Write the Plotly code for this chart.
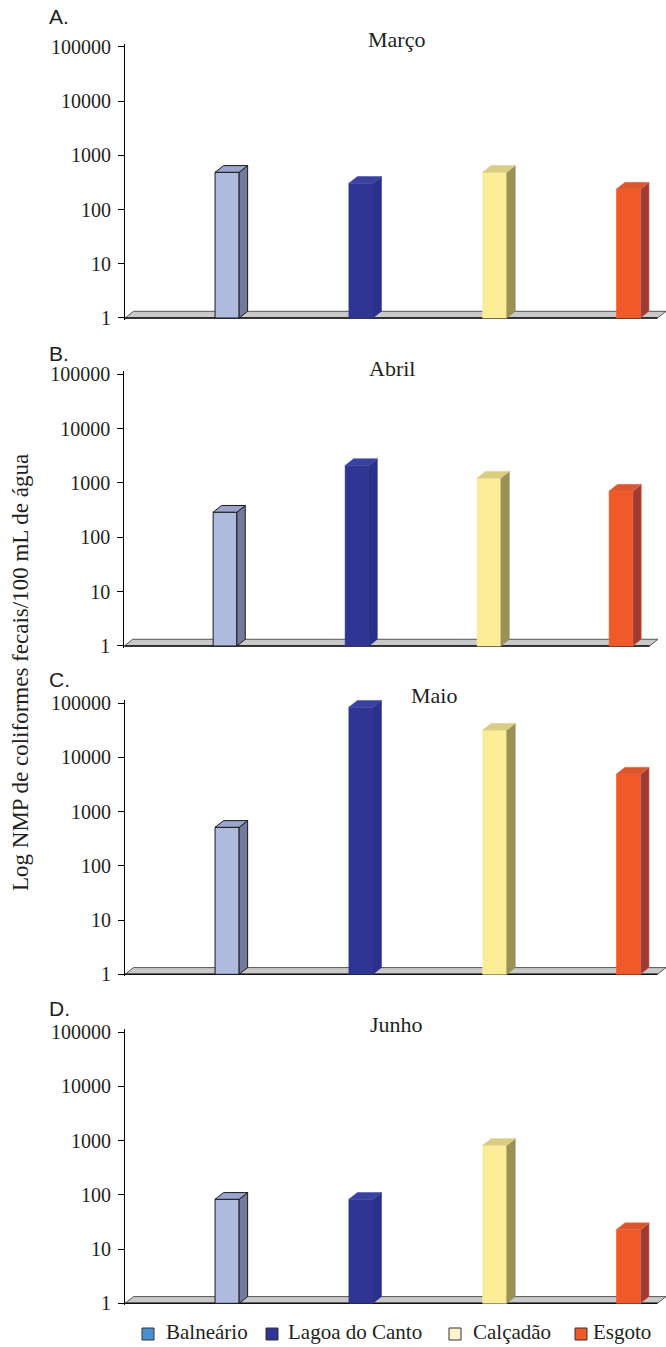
import plotly.graph_objects as go

# ---------------- data ----------------
sites = ["Balneário", "Lagoa do Canto", "Calçadão", "Esgoto"]
months = ["Março", "Abril", "Maio", "Junho"]
panel_letters = ["A.", "B.", "C.", "D."]
marco = [488, 306, 488, 240]
abril = [290, 2100, 1230, 710]
maio = [515, 85000, 32000, 4960]
junho = [83, 83, 820, 23]
tick_vals = [1, 10, 100, 1000, 10000, 100000]
tick_text = ["1", "10", "100", "1000", "10000", "100000"]
y_title = "Log NMP de coliformes fecais/100 mL de água"

# ---------------- styles ----------------
front_colors = ["#aebbdf", "#2e3593", "#fbed98", "#f05a28"]
side_colors = ["#737a9c", "#2b318a", "#9b9055", "#a23a33"]
top_colors = ["#9aa4cc", "#3a41a0", "#d9cd82", "#dc552d"]
edge_colors = ["#1a1a1a", "#4b52aa", "#d8cf90", "#e07050"]
legend_colors = ["#4a8fd0", "#2e3592", "#fdf3cc", "#f05a28"]

W, H = 666, 1347
SERIF = "Liberation Serif"
SANS = "Liberation Sans"
TXT = "#231f20"

series = [marco, abril, maio, junho]
y1_px = [318, 646, 974.3, 1303.3]      # pixel of value 1
y5_px = [47, 374.3, 703.3, 1032.3]     # pixel of value 100000
x_left_px = [125, 124.3, 125, 125]
x_right_px = [666, 658, 666, 666]
title_pos = [(396, 40), (392, 368), (434, 695), (396, 1024)]
letter_y = [16, 353, 679, 1008]
legend_swatch_x = [148, 272, 455, 581]
legend_text_x = [164, 286, 471, 591]
legend_y = 1334

R0, R1 = -0.03, 5.06
XR0, XR1 = -0.763, 3.28
half_w = 0.09
dx = 0.0635
k = 10 ** 0.1236
floor_end = 3.216

fig = go.Figure()

for p in range(4):
    ax = "" if p == 0 else str(p + 1)
    xa, ya = "x" + ax, "y" + ax
    # floor plate
    fig.add_trace(go.Scatter(
        x=[XR0, floor_end, floor_end + dx, XR0 + dx, XR0],
        y=[1, 1, k, k, 1], xaxis=xa, yaxis=ya, mode="lines", fill="toself",
        fillcolor="#c9c9c9", line=dict(color="#555555", width=1),
        hoverinfo="skip", showlegend=False))
    fig.add_trace(go.Scatter(
        x=[XR0, floor_end], y=[1, 1], xaxis=xa, yaxis=ya, mode="lines",
        line=dict(color="#111111", width=1.6), hoverinfo="skip", showlegend=False))
    vals = series[p]
    for i, v in enumerate(vals):
        c = i
        xl, xr = c - half_w, c + half_w
        lw = 1 if i == 0 else 0.6
        # front face
        fig.add_trace(go.Scatter(
            x=[xl, xr, xr, xl, xl], y=[1, 1, v, v, 1], xaxis=xa, yaxis=ya,
            mode="lines", fill="toself", fillcolor=front_colors[i],
            line=dict(color=edge_colors[i] if i == 0 else front_colors[i], width=lw),
            name=sites[i], hovertemplate=sites[i] + ": %{customdata}<extra></extra>",
            customdata=[v] * 5, showlegend=False))
        # side face
        fig.add_trace(go.Scatter(
            x=[xr, xr + dx, xr + dx, xr, xr], y=[1, k, v * k, v, 1], xaxis=xa, yaxis=ya,
            mode="lines", fill="toself", fillcolor=side_colors[i],
            line=dict(color=edge_colors[i] if i in (0, 3) else side_colors[i], width=lw),
            hoverinfo="skip", showlegend=False))
        # top face
        fig.add_trace(go.Scatter(
            x=[xl, xr, xr + dx, xl + dx, xl], y=[v, v, v * k, v * k, v], xaxis=xa, yaxis=ya,
            mode="lines", fill="toself", fillcolor=top_colors[i],
            line=dict(color=edge_colors[i], width=lw),
            hoverinfo="skip", showlegend=False))

layout = dict(
    width=W, height=H, margin=dict(l=0, r=0, t=0, b=0, pad=0, autoexpand=False),
    paper_bgcolor="white", plot_bgcolor="white", showlegend=False,
    template="none",
)

annotations = []
shapes = []
for p in range(4):
    ax = "" if p == 0 else str(p + 1)
    pp = (y1_px[p] - y5_px[p]) / 5.0
    bottom = y1_px[p] - R0 * pp
    top = y5_px[p] - (R1 - 5) * pp
    layout["xaxis" + ax] = dict(
        domain=[x_left_px[p] / W, x_right_px[p] / W], range=[XR0, XR1],
        visible=False, anchor="y" + ax, fixedrange=True, automargin=False)
    layout["yaxis" + ax] = dict(
        domain=[1 - bottom / H, 1 - top / H], type="log", range=[R0, R1],
        tickvals=tick_vals, ticktext=tick_text, ticks="outside", ticklen=6,
        tickwidth=1, tickcolor="black", showline=True, linecolor="black",
        linewidth=1.2, showgrid=False, zeroline=False, anchor="x" + ax,
        ticklabelstandoff=3, automargin=False, fixedrange=True,
        tickfont=dict(family=SERIF, size=20, color=TXT))
    tx, ty = title_pos[p]
    annotations.append(dict(text=months[p], xref="paper", yref="paper",
                            x=tx / W, y=1 - ty / H, xanchor="center", yanchor="middle",
                            showarrow=False, font=dict(family=SERIF, size=22, color=TXT)))
    annotations.append(dict(text=panel_letters[p], xref="paper", yref="paper",
                            x=47 / W, y=1 - letter_y[p] / H, xanchor="left", yanchor="middle",
                            showarrow=False, font=dict(family=SANS, size=21, color=TXT)))

annotations.append(dict(text=y_title, xref="paper", yref="paper", x=21 / W, y=1 - 673 / H,
                        xanchor="center", yanchor="middle", textangle=-90, showarrow=False,
                        font=dict(family=SERIF, size=23, color=TXT)))

# legend: swatches + labels
for i, s in enumerate(sites):
    cx = legend_swatch_x[i]
    shapes.append(dict(type="rect", xref="paper", yref="paper",
                       x0=(cx - 6) / W, x1=(cx + 6) / W,
                       y0=1 - (legend_y + 6) / H, y1=1 - (legend_y - 6) / H,
                       fillcolor=legend_colors[i], line=dict(color="#333333", width=1)))
    annotations.append(dict(text=s, xref="paper", yref="paper",
                            x=legend_text_x[i] / W, y=1 - (legend_y - 2) / H,
                            xanchor="left", yanchor="middle", showarrow=False,
                            font=dict(family=SERIF, size=21, color=TXT)))

layout["annotations"] = annotations
layout["shapes"] = shapes

fig.update_layout(**layout)
fig.write_html(
    "out.html",
    config={"displayModeBar": False},
    post_script="document.body.style.margin='0';document.body.style.overflow='hidden';",
)
